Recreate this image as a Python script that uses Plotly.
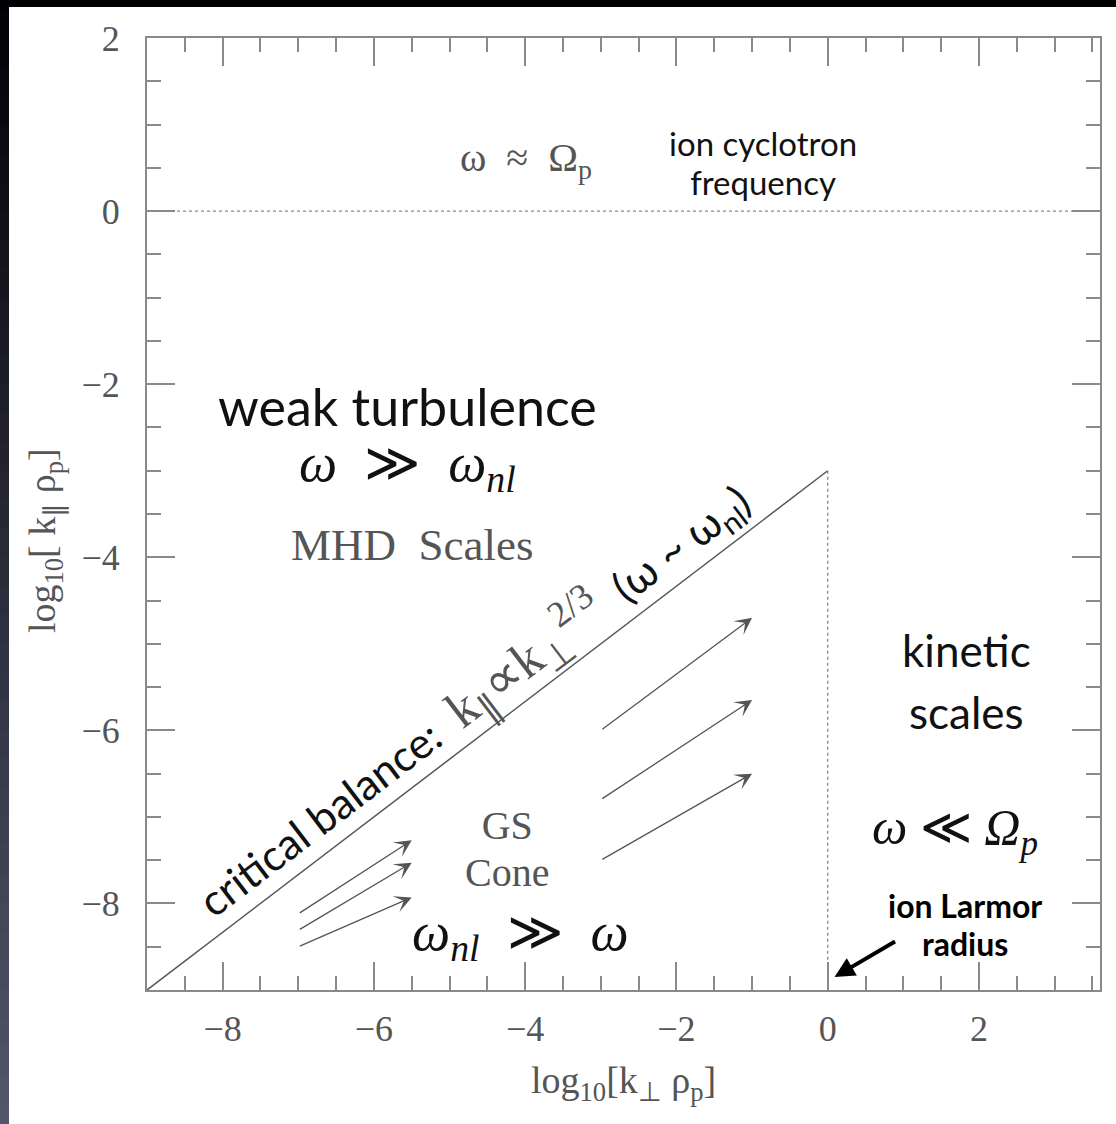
import plotly.graph_objects as go

# Axis extents (log10 units)
x_range = [-9, 3.6]
y_range = [-9, 2]
x_major = [-8, -6, -4, -2, 0, 2]
y_major = [-8, -6, -4, -2, 0, 2]

# Critical balance: k_par ∝ k_perp^(2/3)
cb_x = [-9, 0]
cb_y = [-9, -3]

# Ion cyclotron frequency level and ion Larmor radius scale
cyclotron_level = 0
larmor_scale = 0

# Cascade arrows: tails and heads
arrow_x0 = [-3, -3, -3, -7, -7, -7]
arrow_y0 = [-6.0, -6.8, -7.5, -8.12, -8.31, -8.5]
arrow_x1 = [-1, -1, -1, -5.5, -5.5, -5.5]
arrow_y1 = [-4.7, -5.65, -6.5, -7.27, -7.53, -7.93]

# Pointer to the ion Larmor radius
larmor_tail = (0.91, -8.43)
larmor_head = (0.09, -8.85)

SERIF = "Liberation Serif"
SANS = "Lato"
GRAY = "#555555"
AXIS = "#8a8a8a"

fig = go.Figure()

# critical balance line
fig.add_trace(go.Scatter(x=cb_x, y=cb_y, mode="lines",
                         line=dict(color="#555555", width=1.5), hoverinfo="skip"))
# cyclotron frequency (dotted horizontal)
fig.add_trace(go.Scatter(x=x_range, y=[cyclotron_level, cyclotron_level], mode="lines",
                         line=dict(color="#888888", width=1.3, dash="dot"), hoverinfo="skip"))
# Larmor radius (dotted vertical, below the critical balance line)
fig.add_trace(go.Scatter(x=[larmor_scale, larmor_scale], y=[cb_y[-1], y_range[0]], mode="lines",
                         line=dict(color="#888888", width=1.3, dash="dot"), hoverinfo="skip"))

annotations = []

# cascade arrows
for x0, y0, x1, y1 in zip(arrow_x0, arrow_y0, arrow_x1, arrow_y1):
    annotations.append(dict(x=x1, y=y1, ax=x0, ay=y0, xref="x", yref="y",
                            axref="x", ayref="y", text="", showarrow=True,
                            arrowhead=3, arrowsize=2.2, arrowwidth=1.3,
                            arrowcolor="#555555"))

# ion Larmor radius pointer
annotations.append(dict(x=larmor_head[0], y=larmor_head[1], ax=larmor_tail[0], ay=larmor_tail[1],
                        xref="x", yref="y", axref="x", ayref="y", text="", showarrow=True,
                        arrowhead=2, arrowsize=1.0, arrowwidth=4, arrowcolor="#000000"))


def span(text, size, family=None, color=None):
    style = f"font-size:{size}px"
    if family:
        style += f";font-family:{family}"
    if color:
        style += f";color:{color}"
    return f"<span style='{style}'>{text}</span>"


def label(x, y, text, family, size, color="#111111", angle=0, xshift=0, yshift=0):
    # 'size' is the base font size; it also sets the spacing between <br> lines
    annotations.append(dict(x=x, y=y, xref="x", yref="y", text=text, showarrow=False,
                            font=dict(family=family, size=size, color=color),
                            textangle=angle, xshift=xshift, yshift=yshift,
                            xanchor="center", yanchor="middle"))


label(-3.99, 0.59, "ω &nbsp;≈&nbsp; Ω<sub>p</sub>", SERIF, 40, GRAY)
label(-0.86, 0.566,
      span("ion cyclotron", 33) + "<br>" + span("frequency", 33), SANS, 30)

label(-5.55, -2.62,
      span("weak turbulence", 52) + "<br>"
      + span("<i>ω</i>&nbsp; ≫ &nbsp;<i>ω<sub>nl</sub></i>", 54, SERIF),
      SANS, 42)
label(-5.49, -3.86, "MHD&nbsp; Scales", SERIF, 45, GRAY)
label(-4.24, -7.37, span("GS", 40) + "<br>" + span("Cone", 40), SERIF, 36, GRAY)
label(-4.06, -8.37, "<i>ω<sub>nl</sub></i>&nbsp; ≫ &nbsp;<i>ω</i>", SERIF, 54)

label(1.84, -5.43, span("kinetic", 44) + "<br>" + span("scales", 44), SANS, 48)
label(1.68, -7.16, "<i>ω</i> ≪ <i>Ω<sub>p</sub></i>", SERIF, 50)
label(1.81, -8.24,
      span("<b>ion Larmor</b>", 32) + "<br>" + span("<b>radius</b>", 32),
      SANS, 29, "#000000")

# label running along the critical balance line
cb_label = ("critical balance: &nbsp;"
            + span("k<sub>∥</sub>∝k<sub>⊥</sub><sup>2/3</sup>", 52, SERIF, GRAY)
            + " &nbsp;(ω ~ ω<sub>nl</sub>)")
label(-4.42, -5.946, cb_label, SANS, 43, angle=-37.3, xshift=-19.8, yshift=26)

# axis titles
annotations.append(dict(x=0.5, y=-0.0977, xref="paper", yref="paper", showarrow=False,
                        xanchor="center", yanchor="middle",
                        text="log<sub>10</sub>[k<sub>⊥</sub> ρ<sub>p</sub>]",
                        font=dict(family=SERIF, size=38, color=GRAY)))
annotations.append(dict(x=-0.107, y=0.4716, xref="paper", yref="paper", showarrow=False,
                        xanchor="center", yanchor="middle", textangle=-90,
                        text="log<sub>10</sub>[ k<sub>∥</sub> ρ<sub>p</sub>]",
                        font=dict(family=SERIF, size=38, color=GRAY)))

# dark frame strips along the top and left edges of the page
shapes = [dict(type="rect", xref="paper", yref="paper", x0=-0.2, x1=1.05,
               y0=1.0326, y1=1.06, fillcolor="#000000", line_width=0, layer="above")]
n_seg = 40
top_rgb = (0, 0, 4)
bot_rgb = (82, 86, 106)
y_lo, y_hi = -0.15, 1.06
for i in range(n_seg):
    t = i / (n_seg - 1)
    r, g, b = [int(round(bot_rgb[k] + (top_rgb[k] - bot_rgb[k]) * t)) for k in range(3)]
    ya = y_lo + (y_hi - y_lo) * i / n_seg
    yb = y_lo + (y_hi - y_lo) * (i + 1) / n_seg
    shapes.append(dict(type="rect", xref="paper", yref="paper", x0=-0.17, x1=-0.1448,
                       y0=ya, y1=yb + 0.002, fillcolor=f"rgb({r},{g},{b})",
                       line_width=0, layer="above"))

axis_common = dict(
    showgrid=False, zeroline=False, showline=True, linecolor=AXIS, linewidth=2,
    mirror="allticks", ticks="inside", ticklen=28, tickwidth=1.5, tickcolor=AXIS,
    dtick=2, tick0=0,
    minor=dict(ticks="inside", ticklen=14, tickwidth=1.5, tickcolor=AXIS, dtick=0.5,
               tick0=0, showgrid=False),
    tickfont=dict(family=SERIF, size=36, color=GRAY),
)

fig.update_layout(
    width=1116, height=1124,
    margin=dict(l=147, r=16, t=38, b=134),
    paper_bgcolor="#ffffff", plot_bgcolor="#ffffff",
    showlegend=False,
    xaxis=dict(range=x_range, tickvals=x_major, ticklabelstandoff=6, **axis_common),
    yaxis=dict(range=y_range, tickvals=y_major, ticklabelstandoff=18, **axis_common),
    annotations=annotations,
    shapes=shapes,
)

fig.write_html("out.html")
